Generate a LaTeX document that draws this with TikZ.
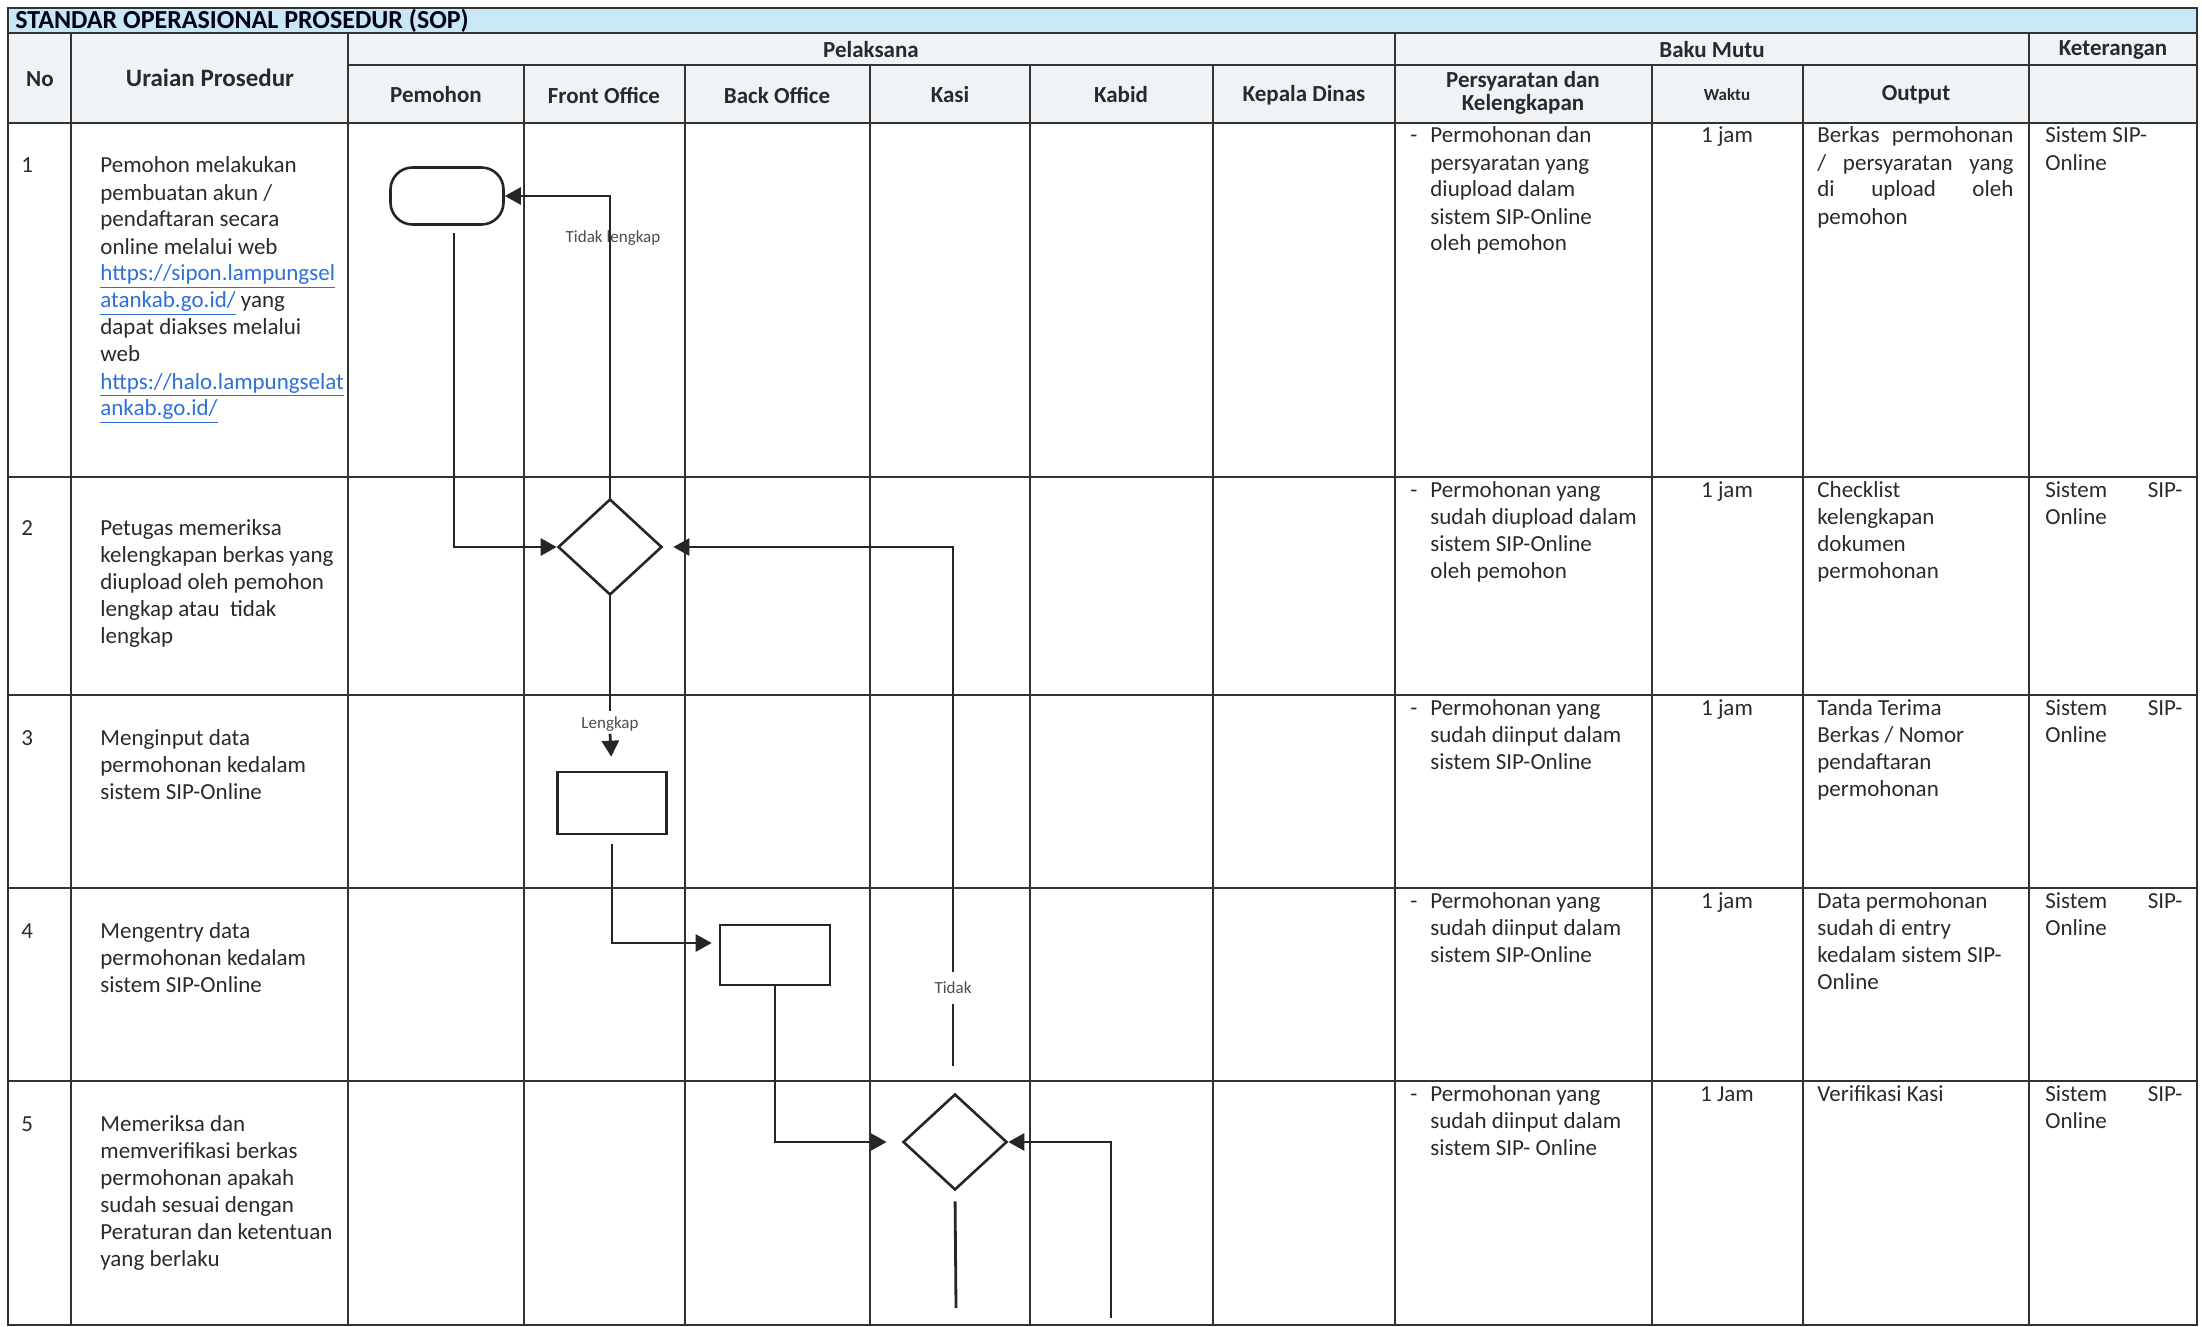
\documentclass[tikz,border=0pt]{standalone}
\usepackage{fontspec}
\setmainfont{Carlito}
\usetikzlibrary{arrows.meta,shapes.geometric,calc}

\definecolor{band}{HTML}{C9E7F5}
\definecolor{headfill}{HTML}{F0F3F6}
\definecolor{gridc}{HTML}{333333}
\definecolor{ink}{HTML}{2A2A2A}
\definecolor{linkblue}{HTML}{2E6FD8}

\newcommand\bodyfont{\fontsize{11.5}{13.5}\selectfont}
\newcommand\cellbox[2]{\parbox[t]{#1}{\bodyfont\raggedright #2}}
\newcommand\jline[1]{\makebox[\linewidth][s]{#1}}
\newcommand\lnk[1]{\textcolor{linkblue}{\underline{#1}}}
\newcommand\dashitem{\leavevmode\llap{\makebox[10pt][l]{-}}}

\tikzset{
  gridline/.style={draw=gridc, line width=1.1pt},
  hdr/.style={font=\fontsize{11.5}{11.5}\selectfont\bfseries, text=ink, inner sep=0pt, align=center},
  cell/.style={anchor=base west, inner sep=0pt, text=ink},
  shapeline/.style={draw=black!85, line width=1.3pt},
  term/.style={shapeline, rectangle, rounded corners=11pt, minimum width=56.5pt, minimum height=28.5pt, inner sep=0pt},
  proc/.style={shapeline, rectangle, minimum width=54.5pt, minimum height=31pt, inner sep=0pt},
  dec/.style={shapeline, diamond, minimum width=52pt, minimum height=48pt, inner sep=0pt},
  plain/.style={draw=black!85, line width=1.4pt},
  flow/.style={plain, -{Triangle[length=8pt,width=8.5pt]}},
  lbl/.style={font=\fontsize{8.5}{10}\selectfont, text=black!70, inner sep=1pt}
}

\begin{document}
\begin{tikzpicture}[x=0.5pt,y=-0.5pt]
\useasboundingbox (0,0) rectangle (2202,1327);

% backgrounds of title band and header rows
\fill[band] (8,8) rectangle (2197,33);
\fill[headfill] (8,33) rectangle (2197,123);

% table grid
\draw[gridline] (8,8) rectangle (2197,1325);
\draw[gridline] (8,33) -- (2197,33);
\draw[gridline] (348,65) -- (2197,65);
\draw[gridline] (8,123) -- (2197,123);
\foreach \yy in {477,695,888,1081}
  \draw[gridline] (8,\yy) -- (2197,\yy);
\foreach \xx in {71,348,1395,2029}
  \draw[gridline] (\xx,33) -- (\xx,1325);
\foreach \xx in {524,685,870,1030,1213,1652,1803}
  \draw[gridline] (\xx,65) -- (\xx,1325);

% title
\node[anchor=west, inner sep=0pt, text=black!90!blue, font=\fontsize{13}{13}\selectfont\bfseries] (title) at (15,21) {STANDAR OPERASIONAL PROSEDUR (SOP)};

% column headers
\node[hdr] (hNo) at (40,79) {No};
\node[hdr, font=\fontsize{12.5}{13}\selectfont\bfseries] (hUr) at (210,78) {Uraian Prosedur};
\node[hdr] (hPel) at (871,50) {Pelaksana};
\node[hdr] (hBM) at (1712,50) {Baku Mutu};
\node[hdr] (hKet) at (2113,50) {Keterangan};
\node[hdr] (hPem) at (436,95) {Pemohon};
\node[hdr] (hFO) at (604,95) {Front Office};
\node[hdr] (hBO) at (777,95) {Back Office};
\node[hdr] (hKasi) at (950,95) {Kasi};
\node[hdr] (hKabid) at (1121,95) {Kabid};
\node[hdr] (hKD) at (1304,95) {Kepala Dinas};
\node[hdr] (hPers) at (1523,93) {Persyaratan dan\\Kelengkapan};
\node[hdr, font=\fontsize{8.5}{9}\selectfont\bfseries] (hWaktu) at (1727,95) {Waktu};
\node[hdr] (hOut) at (1916,95) {Output};

% row numbers
\node[cell] (n1) at (21,173) {\bodyfont 1};
\node[cell] (n2) at (21,535) {\bodyfont 2};
\node[cell] (n3) at (21,745) {\bodyfont 3};
\node[cell] (n4) at (21,938) {\bodyfont 4};
\node[cell] (n5) at (21,1131) {\bodyfont 5};

% procedure descriptions
\node[cell] (u1) at (100,173) {\cellbox{140pt}{Pemohon melakukan\\
pembuatan akun /\\
pendaftaran secara\\
online melalui web\\
\lnk{https://sipon.lampungsel}\\
\lnk{atankab.go.id/} yang\\
dapat diakses melalui\\
web\\
\lnk{https://halo.lampungselat}\\
\lnk{ankab.go.id/}}};
\node[cell] (u2) at (100,535) {\cellbox{140pt}{Petugas memeriksa\\
kelengkapan berkas yang\\
diupload oleh pemohon\\
lengkap atau\ \ tidak\\
lengkap}};
\node[cell] (u3) at (100,745) {\cellbox{140pt}{Menginput data\\
permohonan kedalam\\
sistem SIP-Online}};
\node[cell] (u4) at (100,938) {\cellbox{140pt}{Mengentry data\\
permohonan kedalam\\
sistem SIP-Online}};
\node[cell] (u5) at (100,1131) {\cellbox{140pt}{Memeriksa dan\\
memverifikasi berkas\\
permohonan apakah\\
sudah sesuai dengan\\
Peraturan dan ketentuan\\
yang berlaku}};

% requirements
\node[cell] (p1) at (1430,143) {\cellbox{110pt}{\dashitem Permohonan dan\\
persyaratan yang\\
diupload dalam\\
sistem SIP-Online\\
oleh pemohon}};
\node[cell] (p2) at (1430,497) {\cellbox{110pt}{\dashitem Permohonan yang\\
sudah diupload dalam\\
sistem SIP-Online\\
oleh pemohon}};
\node[cell] (p3) at (1430,715) {\cellbox{110pt}{\dashitem Permohonan yang\\
sudah diinput dalam\\
sistem SIP-Online}};
\node[cell] (p4) at (1430,908) {\cellbox{110pt}{\dashitem Permohonan yang\\
sudah diinput dalam\\
sistem SIP-Online}};
\node[cell] (p5) at (1430,1101) {\cellbox{110pt}{\dashitem Permohonan yang\\
sudah diinput dalam\\
sistem SIP- Online}};

% time
\node[cell, anchor=base] (w1) at (1727,143) {\bodyfont 1 jam};
\node[cell, anchor=base] (w2) at (1727,497) {\bodyfont 1 jam};
\node[cell, anchor=base] (w3) at (1727,715) {\bodyfont 1 jam};
\node[cell, anchor=base] (w4) at (1727,908) {\bodyfont 1 jam};
\node[cell, anchor=base] (w5) at (1727,1101) {\bodyfont 1 Jam};

% output
\node[cell] (o1) at (1817,143) {\cellbox{98pt}{\jline{Berkas permohonan}\\
\jline{/ persyaratan yang}\\
\jline{di upload oleh}\\
pemohon}};
\node[cell] (o2) at (1817,497) {\cellbox{98pt}{Checklist\\
kelengkapan\\
dokumen\\
permohonan}};
\node[cell] (o3) at (1817,715) {\cellbox{98pt}{Tanda Terima\\
Berkas / Nomor\\
pendaftaran\\
permohonan}};
\node[cell] (o4) at (1817,908) {\cellbox{98pt}{Data permohonan\\
sudah di entry\\
kedalam sistem SIP-\\
Online}};
\node[cell] (o5) at (1817,1101) {\cellbox{98pt}{Verifikasi Kasi}};

% remarks
\node[cell] (k1) at (2045,143) {\cellbox{68.5pt}{Sistem SIP-\\Online}};
\node[cell] (k2) at (2045,497) {\cellbox{68.5pt}{\jline{Sistem SIP-}\\Online}};
\node[cell] (k3) at (2045,715) {\cellbox{68.5pt}{\jline{Sistem SIP-}\\Online}};
\node[cell] (k4) at (2045,908) {\cellbox{68.5pt}{\jline{Sistem SIP-}\\Online}};
\node[cell] (k5) at (2045,1101) {\cellbox{68.5pt}{\jline{Sistem SIP-}\\Online}};

% flowchart shapes
\node[term] (term) at (447,196) {};
\node[dec] (dFO) at (610,547) {};
\node[proc] (bFO) at (612,803) {};
\node[proc, minimum width=55pt, minimum height=30pt] (bBO) at (775,955) {};
\node[dec] (dKasi) at (955,1142) {};

% free line ends
\coordinate (t1) at (454,233);
\coordinate (l1) at (610,711);
\coordinate (td) at (953,1066);
\coordinate (kb) at (956,1308);
\coordinate (kr) at (1111,1318);

% labels drawn under the lines
\node[lbl] (tl) at (613,238) {Tidak lengkap};
\node[lbl] (lk) at (610,724) {Lengkap};

% connectors
\draw[flow] (t1) |- (dFO.west);
\draw[flow] (dFO.north) |- (term.east);
\draw[plain] (dFO.south) -- (l1);
\draw[flow, shorten >=7pt] (lk.south) -- (bFO.north);
\draw[flow, shorten <=4.5pt, shorten >=3.5pt] (bFO.south) |- ($(bBO.west)+(0,-12)$);
\draw[flow, shorten >=7.5pt] (bBO.south) |- (dKasi.west);
\draw[flow, shorten >=5pt] (td) |- (dFO.east);
\node[lbl, fill=white, inner xsep=2pt, inner ysep=5pt] (tk) at (953,988) {Tidak};
\draw[plain, shorten <=5pt] (dKasi.south) -- (kb);
\draw[flow] (kr) |- (dKasi.east);
\end{tikzpicture}
\end{document}
